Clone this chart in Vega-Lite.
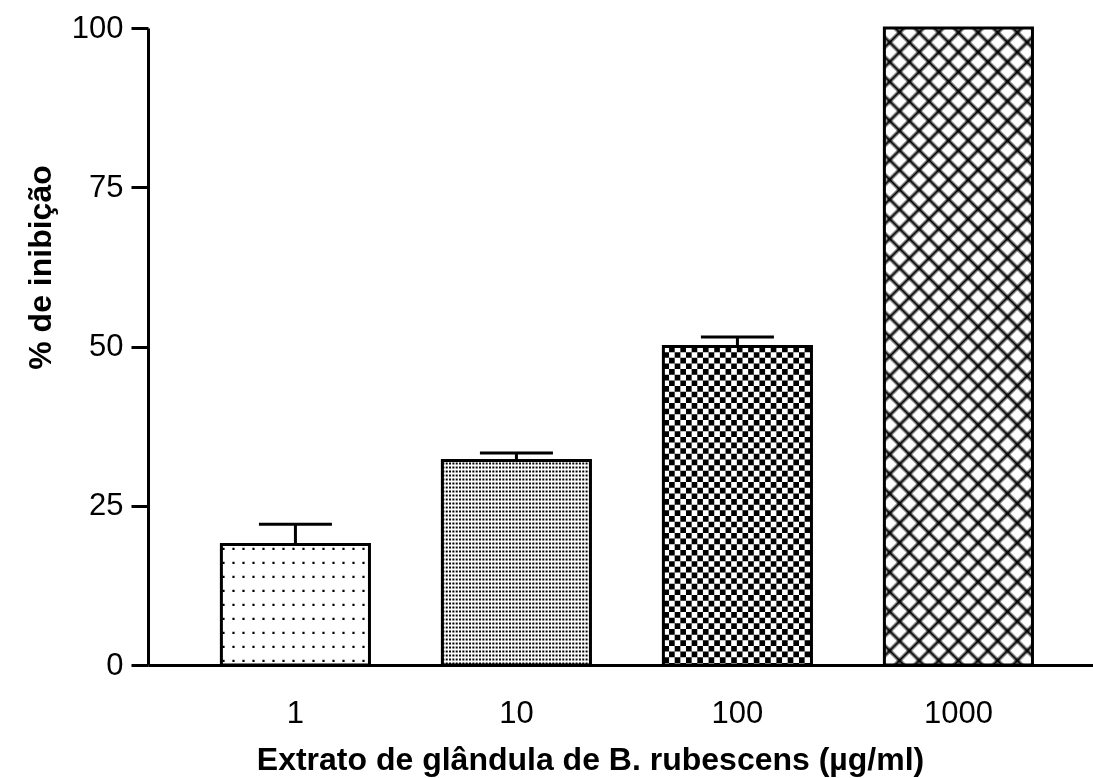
{
  "$schema": "https://vega.github.io/schema/vega-lite/v6.json",
  "autosize": "none",
  "width": 945,
  "height": 637,
  "padding": {"left": 148, "top": 28, "right": 0, "bottom": 113},
  "background": "white",
  "data": {"values": [
    {"conc": "1", "mean": 18.9, "upper": 22.1},
    {"conc": "10", "mean": 32.1, "upper": 33.3},
    {"conc": "100", "mean": 50.0, "upper": 51.5},
    {"conc": "1000", "mean": 100, "upper": 100}
  ]},
  "config": {"view": {"stroke": null}, "font": "Liberation Sans"},
  "resolve": {"scale": {"y": "independent", "x": "independent"}},
  "layer": [
    {
      "mark": {"type": "bar", "fill": "white", "strokeWidth": 0},
      "encoding": {
        "x": {"field": "conc", "type": "nominal", "scale": {"domain": ["1", "10", "100", "1000"], "paddingInner": 0.33, "paddingOuter": 0.303, "align": 0.548}, "axis": null},
        "y": {"field": "mean", "type": "quantitative", "scale": {"domain": [0, 100], "nice": false}, "axis": null}
      }
    },
    {
      "transform": [{"filter": "datum.conc == '1'"}],
      "mark": {"type": "rule", "color": "black", "strokeDash": [2.2, 7.8], "strokeDashOffset": 9},
      "encoding": {
        "x": {"field": "conc", "type": "nominal", "bandPosition": 0, "scale": {"domain": ["1", "10", "100", "1000"], "paddingInner": 0.33, "paddingOuter": 0.303, "align": 0.548}, "axis": null},
        "x2": {"field": "conc", "bandPosition": 1},
        "y": {"field": "mean", "type": "quantitative", "scale": {"domain": [0, 200], "nice": false}, "axis": null},
        "strokeWidth": {"field": "mean", "type": "quantitative", "scale": {"domain": [0, 100], "range": [0, 637], "zero": true, "nice": false}, "legend": null}
      }
    },
    {
      "transform": [{"filter": "datum.conc == '10'"}],
      "mark": {"type": "rule", "color": "black", "strokeDash": [2, 1.33], "strokeDashOffset": 0},
      "encoding": {
        "x": {"field": "conc", "type": "nominal", "bandPosition": 0, "scale": {"domain": ["1", "10", "100", "1000"], "paddingInner": 0.33, "paddingOuter": 0.303, "align": 0.548}, "axis": null},
        "x2": {"field": "conc", "bandPosition": 1},
        "y": {"field": "mean", "type": "quantitative", "scale": {"domain": [0, 200], "nice": false}, "axis": null},
        "strokeWidth": {"field": "mean", "type": "quantitative", "scale": {"domain": [0, 100], "range": [0, 637], "zero": true, "nice": false}, "legend": null}
      }
    },
    {
      "transform": [{"filter": "datum.conc == '100'"}],
      "mark": {"type": "rule", "color": "black", "strokeDash": [5.65, 5.65], "strokeDashOffset": 0},
      "encoding": {
        "x": {"field": "conc", "type": "nominal", "bandPosition": 0, "scale": {"domain": ["1", "10", "100", "1000"], "paddingInner": 0.33, "paddingOuter": 0.303, "align": 0.548}, "axis": null},
        "x2": {"field": "conc", "bandPosition": 1},
        "y": {"field": "mean", "type": "quantitative", "scale": {"domain": [0, 200], "nice": false}, "axis": null},
        "strokeWidth": {"field": "mean", "type": "quantitative", "scale": {"domain": [0, 100], "range": [0, 637], "zero": true, "nice": false}, "legend": null}
      }
    },
    {
      "transform": [{"filter": "datum.conc == '1'"}],
      "mark": {"type": "rule", "color": "white", "strokeWidth": 148, "strokeDash": [11.8, 2.2], "strokeDashOffset": 8.6},
      "encoding": {
        "x": {"field": "conc", "type": "nominal", "scale": {"domain": ["1", "10", "100", "1000"], "paddingInner": 0.33, "paddingOuter": 0.303, "align": 0.548}, "axis": null},
        "y": {"field": "mean", "type": "quantitative", "scale": {"domain": [0, 100], "nice": false}, "axis": null},
        "y2": {"datum": 0}
      }
    },
    {
      "transform": [{"filter": "datum.conc == '10'"}],
      "mark": {"type": "rule", "color": "white", "strokeWidth": 148, "strokeDash": [2, 2], "strokeDashOffset": 0},
      "encoding": {
        "x": {"field": "conc", "type": "nominal", "scale": {"domain": ["1", "10", "100", "1000"], "paddingInner": 0.33, "paddingOuter": 0.303, "align": 0.548}, "axis": null},
        "y": {"field": "mean", "type": "quantitative", "scale": {"domain": [0, 100], "nice": false}, "axis": null},
        "y2": {"datum": 0}
      }
    },
    {
      "transform": [{"filter": "datum.conc == '100'"}],
      "mark": {"type": "rule", "color": "white", "strokeWidth": 148, "strokeDash": [5.65, 5.65], "strokeDashOffset": 0, "blend": "difference"},
      "encoding": {
        "x": {"field": "conc", "type": "nominal", "scale": {"domain": ["1", "10", "100", "1000"], "paddingInner": 0.33, "paddingOuter": 0.303, "align": 0.548}, "axis": null},
        "y": {"field": "mean", "type": "quantitative", "scale": {"domain": [0, 100], "nice": false}, "axis": null},
        "y2": {"datum": 0}
      }
    },
    {
      "transform": [{"filter": "datum.conc == '1000'"}],
      "mark": {"type": "bar", "strokeWidth": 0, "fill": {
        "gradient": "linear", "x1": 0, "y1": 0, "x2": 0.2717, "y2": 1.1692,
        "stops": [
          {"offset": 0, "color": "#000"}, {"offset": 0.005, "color": "#fff"},
          {"offset": 0.02, "color": "#fff"}, {"offset": 0.025, "color": "#000"}, {"offset": 0.03, "color": "#fff"},
          {"offset": 0.045, "color": "#fff"}, {"offset": 0.05, "color": "#000"}, {"offset": 0.055, "color": "#fff"},
          {"offset": 0.07, "color": "#fff"}, {"offset": 0.075, "color": "#000"}, {"offset": 0.08, "color": "#fff"},
          {"offset": 0.095, "color": "#fff"}, {"offset": 0.1, "color": "#000"}, {"offset": 0.105, "color": "#fff"},
          {"offset": 0.12, "color": "#fff"}, {"offset": 0.125, "color": "#000"}, {"offset": 0.13, "color": "#fff"},
          {"offset": 0.145, "color": "#fff"}, {"offset": 0.15, "color": "#000"}, {"offset": 0.155, "color": "#fff"},
          {"offset": 0.17, "color": "#fff"}, {"offset": 0.175, "color": "#000"}, {"offset": 0.18, "color": "#fff"},
          {"offset": 0.195, "color": "#fff"}, {"offset": 0.2, "color": "#000"}, {"offset": 0.205, "color": "#fff"},
          {"offset": 0.22, "color": "#fff"}, {"offset": 0.225, "color": "#000"}, {"offset": 0.23, "color": "#fff"},
          {"offset": 0.245, "color": "#fff"}, {"offset": 0.25, "color": "#000"}, {"offset": 0.255, "color": "#fff"},
          {"offset": 0.27, "color": "#fff"}, {"offset": 0.275, "color": "#000"}, {"offset": 0.28, "color": "#fff"},
          {"offset": 0.295, "color": "#fff"}, {"offset": 0.3, "color": "#000"}, {"offset": 0.305, "color": "#fff"},
          {"offset": 0.32, "color": "#fff"}, {"offset": 0.325, "color": "#000"}, {"offset": 0.33, "color": "#fff"},
          {"offset": 0.345, "color": "#fff"}, {"offset": 0.35, "color": "#000"}, {"offset": 0.355, "color": "#fff"},
          {"offset": 0.37, "color": "#fff"}, {"offset": 0.375, "color": "#000"}, {"offset": 0.38, "color": "#fff"},
          {"offset": 0.395, "color": "#fff"}, {"offset": 0.4, "color": "#000"}, {"offset": 0.405, "color": "#fff"},
          {"offset": 0.42, "color": "#fff"}, {"offset": 0.425, "color": "#000"}, {"offset": 0.43, "color": "#fff"},
          {"offset": 0.445, "color": "#fff"}, {"offset": 0.45, "color": "#000"}, {"offset": 0.455, "color": "#fff"},
          {"offset": 0.47, "color": "#fff"}, {"offset": 0.475, "color": "#000"}, {"offset": 0.48, "color": "#fff"},
          {"offset": 0.495, "color": "#fff"}, {"offset": 0.5, "color": "#000"}, {"offset": 0.505, "color": "#fff"},
          {"offset": 0.52, "color": "#fff"}, {"offset": 0.525, "color": "#000"}, {"offset": 0.53, "color": "#fff"},
          {"offset": 0.545, "color": "#fff"}, {"offset": 0.55, "color": "#000"}, {"offset": 0.555, "color": "#fff"},
          {"offset": 0.57, "color": "#fff"}, {"offset": 0.575, "color": "#000"}, {"offset": 0.58, "color": "#fff"},
          {"offset": 0.595, "color": "#fff"}, {"offset": 0.6, "color": "#000"}, {"offset": 0.605, "color": "#fff"},
          {"offset": 0.62, "color": "#fff"}, {"offset": 0.625, "color": "#000"}, {"offset": 0.63, "color": "#fff"},
          {"offset": 0.645, "color": "#fff"}, {"offset": 0.65, "color": "#000"}, {"offset": 0.655, "color": "#fff"},
          {"offset": 0.67, "color": "#fff"}, {"offset": 0.675, "color": "#000"}, {"offset": 0.68, "color": "#fff"},
          {"offset": 0.695, "color": "#fff"}, {"offset": 0.7, "color": "#000"}, {"offset": 0.705, "color": "#fff"},
          {"offset": 0.72, "color": "#fff"}, {"offset": 0.725, "color": "#000"}, {"offset": 0.73, "color": "#fff"},
          {"offset": 0.745, "color": "#fff"}, {"offset": 0.75, "color": "#000"}, {"offset": 0.755, "color": "#fff"},
          {"offset": 0.77, "color": "#fff"}, {"offset": 0.775, "color": "#000"}, {"offset": 0.78, "color": "#fff"},
          {"offset": 0.795, "color": "#fff"}, {"offset": 0.8, "color": "#000"}, {"offset": 0.805, "color": "#fff"},
          {"offset": 0.82, "color": "#fff"}, {"offset": 0.825, "color": "#000"}, {"offset": 0.83, "color": "#fff"},
          {"offset": 0.845, "color": "#fff"}, {"offset": 0.85, "color": "#000"}, {"offset": 0.855, "color": "#fff"},
          {"offset": 0.87, "color": "#fff"}, {"offset": 0.875, "color": "#000"}, {"offset": 0.88, "color": "#fff"},
          {"offset": 0.895, "color": "#fff"}, {"offset": 0.9, "color": "#000"}, {"offset": 0.905, "color": "#fff"},
          {"offset": 0.92, "color": "#fff"}, {"offset": 0.925, "color": "#000"}, {"offset": 0.93, "color": "#fff"},
          {"offset": 0.945, "color": "#fff"}, {"offset": 0.95, "color": "#000"}, {"offset": 0.955, "color": "#fff"},
          {"offset": 0.97, "color": "#fff"}, {"offset": 0.975, "color": "#000"}, {"offset": 0.98, "color": "#fff"},
          {"offset": 0.995, "color": "#fff"}, {"offset": 1, "color": "#000"}
        ]}},
      "encoding": {
        "x": {"field": "conc", "type": "nominal", "scale": {"domain": ["1", "10", "100", "1000"], "paddingInner": 0.33, "paddingOuter": 0.303, "align": 0.548}, "axis": null},
        "y": {"field": "mean", "type": "quantitative", "scale": {"domain": [0, 100], "nice": false}, "axis": null}
      }
    },
    {
      "transform": [{"filter": "datum.conc == '1000'"}],
      "mark": {"type": "bar", "strokeWidth": 0, "fill": {
        "gradient": "linear", "x1": 0, "y1": 1, "x2": 0.2717, "y2": -0.1692,
        "stops": [
          {"offset": 0, "color": "rgba(0,0,0,1)"}, {"offset": 0.005, "color": "rgba(0,0,0,0)"},
          {"offset": 0.02, "color": "rgba(0,0,0,0)"}, {"offset": 0.025, "color": "rgba(0,0,0,1)"}, {"offset": 0.03, "color": "rgba(0,0,0,0)"},
          {"offset": 0.045, "color": "rgba(0,0,0,0)"}, {"offset": 0.05, "color": "rgba(0,0,0,1)"}, {"offset": 0.055, "color": "rgba(0,0,0,0)"},
          {"offset": 0.07, "color": "rgba(0,0,0,0)"}, {"offset": 0.075, "color": "rgba(0,0,0,1)"}, {"offset": 0.08, "color": "rgba(0,0,0,0)"},
          {"offset": 0.095, "color": "rgba(0,0,0,0)"}, {"offset": 0.1, "color": "rgba(0,0,0,1)"}, {"offset": 0.105, "color": "rgba(0,0,0,0)"},
          {"offset": 0.12, "color": "rgba(0,0,0,0)"}, {"offset": 0.125, "color": "rgba(0,0,0,1)"}, {"offset": 0.13, "color": "rgba(0,0,0,0)"},
          {"offset": 0.145, "color": "rgba(0,0,0,0)"}, {"offset": 0.15, "color": "rgba(0,0,0,1)"}, {"offset": 0.155, "color": "rgba(0,0,0,0)"},
          {"offset": 0.17, "color": "rgba(0,0,0,0)"}, {"offset": 0.175, "color": "rgba(0,0,0,1)"}, {"offset": 0.18, "color": "rgba(0,0,0,0)"},
          {"offset": 0.195, "color": "rgba(0,0,0,0)"}, {"offset": 0.2, "color": "rgba(0,0,0,1)"}, {"offset": 0.205, "color": "rgba(0,0,0,0)"},
          {"offset": 0.22, "color": "rgba(0,0,0,0)"}, {"offset": 0.225, "color": "rgba(0,0,0,1)"}, {"offset": 0.23, "color": "rgba(0,0,0,0)"},
          {"offset": 0.245, "color": "rgba(0,0,0,0)"}, {"offset": 0.25, "color": "rgba(0,0,0,1)"}, {"offset": 0.255, "color": "rgba(0,0,0,0)"},
          {"offset": 0.27, "color": "rgba(0,0,0,0)"}, {"offset": 0.275, "color": "rgba(0,0,0,1)"}, {"offset": 0.28, "color": "rgba(0,0,0,0)"},
          {"offset": 0.295, "color": "rgba(0,0,0,0)"}, {"offset": 0.3, "color": "rgba(0,0,0,1)"}, {"offset": 0.305, "color": "rgba(0,0,0,0)"},
          {"offset": 0.32, "color": "rgba(0,0,0,0)"}, {"offset": 0.325, "color": "rgba(0,0,0,1)"}, {"offset": 0.33, "color": "rgba(0,0,0,0)"},
          {"offset": 0.345, "color": "rgba(0,0,0,0)"}, {"offset": 0.35, "color": "rgba(0,0,0,1)"}, {"offset": 0.355, "color": "rgba(0,0,0,0)"},
          {"offset": 0.37, "color": "rgba(0,0,0,0)"}, {"offset": 0.375, "color": "rgba(0,0,0,1)"}, {"offset": 0.38, "color": "rgba(0,0,0,0)"},
          {"offset": 0.395, "color": "rgba(0,0,0,0)"}, {"offset": 0.4, "color": "rgba(0,0,0,1)"}, {"offset": 0.405, "color": "rgba(0,0,0,0)"},
          {"offset": 0.42, "color": "rgba(0,0,0,0)"}, {"offset": 0.425, "color": "rgba(0,0,0,1)"}, {"offset": 0.43, "color": "rgba(0,0,0,0)"},
          {"offset": 0.445, "color": "rgba(0,0,0,0)"}, {"offset": 0.45, "color": "rgba(0,0,0,1)"}, {"offset": 0.455, "color": "rgba(0,0,0,0)"},
          {"offset": 0.47, "color": "rgba(0,0,0,0)"}, {"offset": 0.475, "color": "rgba(0,0,0,1)"}, {"offset": 0.48, "color": "rgba(0,0,0,0)"},
          {"offset": 0.495, "color": "rgba(0,0,0,0)"}, {"offset": 0.5, "color": "rgba(0,0,0,1)"}, {"offset": 0.505, "color": "rgba(0,0,0,0)"},
          {"offset": 0.52, "color": "rgba(0,0,0,0)"}, {"offset": 0.525, "color": "rgba(0,0,0,1)"}, {"offset": 0.53, "color": "rgba(0,0,0,0)"},
          {"offset": 0.545, "color": "rgba(0,0,0,0)"}, {"offset": 0.55, "color": "rgba(0,0,0,1)"}, {"offset": 0.555, "color": "rgba(0,0,0,0)"},
          {"offset": 0.57, "color": "rgba(0,0,0,0)"}, {"offset": 0.575, "color": "rgba(0,0,0,1)"}, {"offset": 0.58, "color": "rgba(0,0,0,0)"},
          {"offset": 0.595, "color": "rgba(0,0,0,0)"}, {"offset": 0.6, "color": "rgba(0,0,0,1)"}, {"offset": 0.605, "color": "rgba(0,0,0,0)"},
          {"offset": 0.62, "color": "rgba(0,0,0,0)"}, {"offset": 0.625, "color": "rgba(0,0,0,1)"}, {"offset": 0.63, "color": "rgba(0,0,0,0)"},
          {"offset": 0.645, "color": "rgba(0,0,0,0)"}, {"offset": 0.65, "color": "rgba(0,0,0,1)"}, {"offset": 0.655, "color": "rgba(0,0,0,0)"},
          {"offset": 0.67, "color": "rgba(0,0,0,0)"}, {"offset": 0.675, "color": "rgba(0,0,0,1)"}, {"offset": 0.68, "color": "rgba(0,0,0,0)"},
          {"offset": 0.695, "color": "rgba(0,0,0,0)"}, {"offset": 0.7, "color": "rgba(0,0,0,1)"}, {"offset": 0.705, "color": "rgba(0,0,0,0)"},
          {"offset": 0.72, "color": "rgba(0,0,0,0)"}, {"offset": 0.725, "color": "rgba(0,0,0,1)"}, {"offset": 0.73, "color": "rgba(0,0,0,0)"},
          {"offset": 0.745, "color": "rgba(0,0,0,0)"}, {"offset": 0.75, "color": "rgba(0,0,0,1)"}, {"offset": 0.755, "color": "rgba(0,0,0,0)"},
          {"offset": 0.77, "color": "rgba(0,0,0,0)"}, {"offset": 0.775, "color": "rgba(0,0,0,1)"}, {"offset": 0.78, "color": "rgba(0,0,0,0)"},
          {"offset": 0.795, "color": "rgba(0,0,0,0)"}, {"offset": 0.8, "color": "rgba(0,0,0,1)"}, {"offset": 0.805, "color": "rgba(0,0,0,0)"},
          {"offset": 0.82, "color": "rgba(0,0,0,0)"}, {"offset": 0.825, "color": "rgba(0,0,0,1)"}, {"offset": 0.83, "color": "rgba(0,0,0,0)"},
          {"offset": 0.845, "color": "rgba(0,0,0,0)"}, {"offset": 0.85, "color": "rgba(0,0,0,1)"}, {"offset": 0.855, "color": "rgba(0,0,0,0)"},
          {"offset": 0.87, "color": "rgba(0,0,0,0)"}, {"offset": 0.875, "color": "rgba(0,0,0,1)"}, {"offset": 0.88, "color": "rgba(0,0,0,0)"},
          {"offset": 0.895, "color": "rgba(0,0,0,0)"}, {"offset": 0.9, "color": "rgba(0,0,0,1)"}, {"offset": 0.905, "color": "rgba(0,0,0,0)"},
          {"offset": 0.92, "color": "rgba(0,0,0,0)"}, {"offset": 0.925, "color": "rgba(0,0,0,1)"}, {"offset": 0.93, "color": "rgba(0,0,0,0)"},
          {"offset": 0.945, "color": "rgba(0,0,0,0)"}, {"offset": 0.95, "color": "rgba(0,0,0,1)"}, {"offset": 0.955, "color": "rgba(0,0,0,0)"},
          {"offset": 0.97, "color": "rgba(0,0,0,0)"}, {"offset": 0.975, "color": "rgba(0,0,0,1)"}, {"offset": 0.98, "color": "rgba(0,0,0,0)"},
          {"offset": 0.995, "color": "rgba(0,0,0,0)"}, {"offset": 1, "color": "rgba(0,0,0,1)"}
        ]}},
      "encoding": {
        "x": {"field": "conc", "type": "nominal", "scale": {"domain": ["1", "10", "100", "1000"], "paddingInner": 0.33, "paddingOuter": 0.303, "align": 0.548}, "axis": null},
        "y": {"field": "mean", "type": "quantitative", "scale": {"domain": [0, 100], "nice": false}, "axis": null}
      }
    },
    {
      "mark": {"type": "bar", "fillOpacity": 0, "stroke": "black", "strokeWidth": 3},
      "encoding": {
        "x": {
          "field": "conc", "type": "nominal",
          "scale": {"domain": ["1", "10", "100", "1000"], "paddingInner": 0.33, "paddingOuter": 0.303, "align": 0.548},
          "axis": {
            "title": "Extrato de glândula de B. rubescens (µg/ml)",
            "titleFont": "Liberation Sans", "titleFontSize": 32, "titleFontWeight": "bold", "titleColor": "black",
            "titleX": 442, "titleY": 104, "titleAlign": "center", "titleBaseline": "alphabetic",
            "labelFont": "Liberation Sans", "labelFontSize": 31, "labelColor": "black", "labelAngle": 0,
            "labelPadding": 33, "ticks": false,
            "domainColor": "black", "domainWidth": 3
          }
        },
        "y": {
          "field": "mean", "type": "quantitative",
          "scale": {"domain": [0, 100], "nice": false},
          "axis": {
            "title": "% de inibição", "values": [0, 25, 50, 75, 100],
            "titleFont": "Liberation Sans", "titleFontSize": 32, "titleFontWeight": "bold", "titleColor": "black",
            "titleX": -108, "titleY": 239, "titleAlign": "center", "titleBaseline": "middle", "titleAngle": -90,
            "labelFont": "Liberation Sans", "labelFontSize": 31, "labelColor": "black", "labelPadding": 8,
            "tickSize": 17, "tickWidth": 3, "tickColor": "black",
            "domainColor": "black", "domainWidth": 3, "grid": false
          }
        }
      }
    },
    {
      "transform": [{"filter": "datum.upper > datum.mean"}],
      "mark": {"type": "rule", "color": "black", "strokeWidth": 3},
      "encoding": {
        "x": {"field": "conc", "type": "nominal", "scale": {"domain": ["1", "10", "100", "1000"], "paddingInner": 0.33, "paddingOuter": 0.303, "align": 0.548}, "axis": null},
        "y": {"field": "mean", "type": "quantitative", "scale": {"domain": [0, 100], "nice": false}, "axis": null},
        "y2": {"field": "upper"}
      }
    },
    {
      "transform": [{"filter": "datum.upper > datum.mean"}],
      "mark": {"type": "tick", "color": "black", "thickness": 3, "size": 73, "opacity": 1},
      "encoding": {
        "x": {"field": "conc", "type": "nominal", "scale": {"domain": ["1", "10", "100", "1000"], "paddingInner": 0.33, "paddingOuter": 0.303, "align": 0.548}, "axis": null},
        "y": {"field": "upper", "type": "quantitative", "scale": {"domain": [0, 100], "nice": false}, "axis": null}
      }
    }
  ]
}
